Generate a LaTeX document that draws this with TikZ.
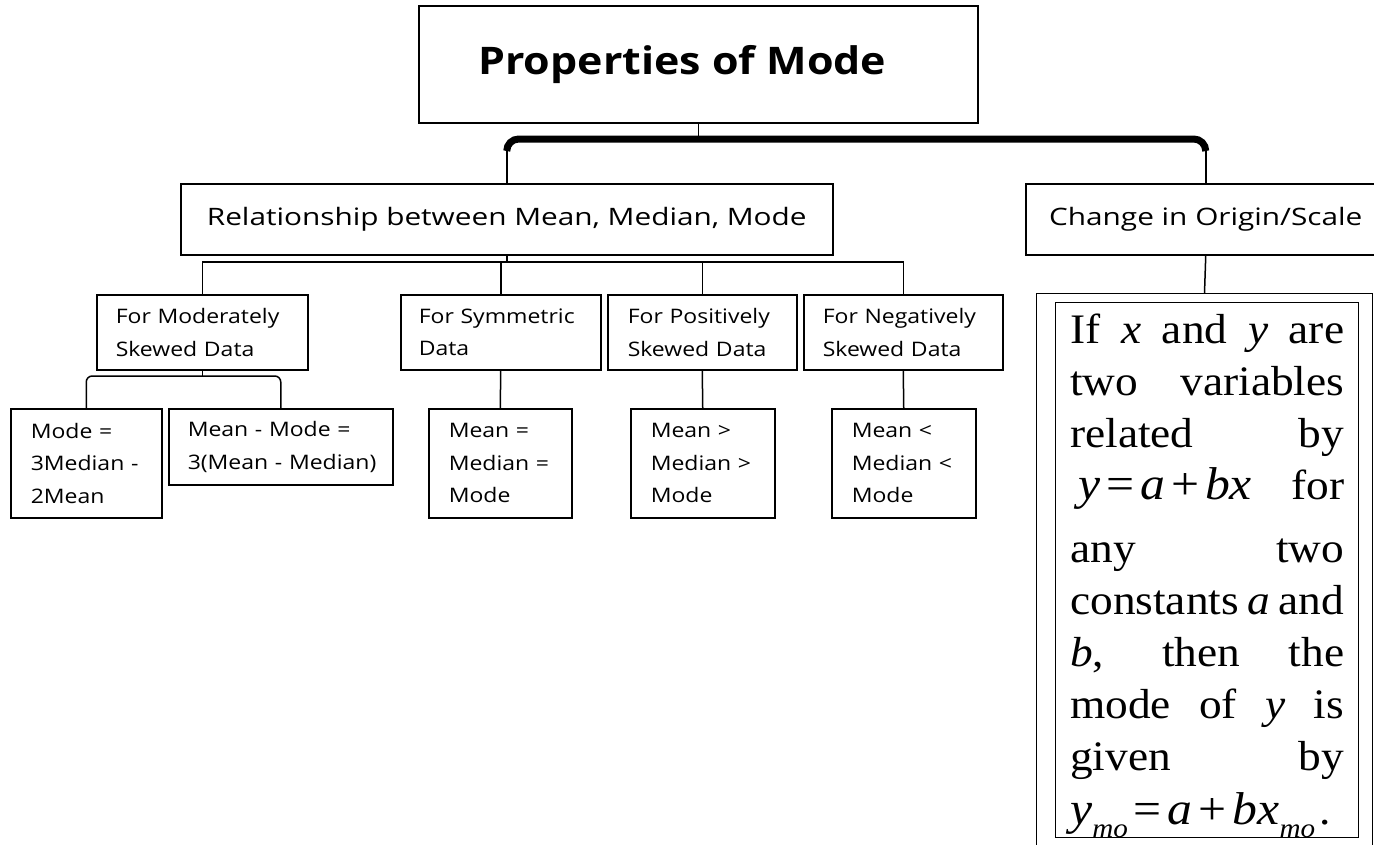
\documentclass[tikz,border=0pt]{standalone}
\usepackage{fontspec}
\setmainfont{Open Sans}
\newfontfamily\titlesans[FakeStretch=1.13]{Open Sans}
\newfontfamily\headsans[FakeStretch=1.24]{Open Sans}
\newfontfamily\leafsans[FakeStretch=1.15]{Open Sans}
\newfontfamily\bodyserif[FakeStretch=1.08]{Liberation Serif}
% larger italic letters and signs for the formulas in the serif panel
\newcommand\fv[1]{{\fontsize{46}{52}\selectfont\itshape #1}}
\newcommand\fs[1]{{\fontsize{46}{52}\selectfont #1}}
\newcommand\fsub[1]{\raisebox{-0.32em}{\fontsize{27}{27}\selectfont\itshape #1}}
\begin{document}
\begin{tikzpicture}[x=1pt,y=-1pt,
  box/.style={draw, line width=1.5pt, anchor=north west, inner ysep=0pt, align=center},
  lbox/.style={box, align=left, font=\leafsans\fontsize{20}{32.5}\selectfont},
  link/.style={line width=1.5pt},
  thickbar/.style={line width=7pt, rounded corners=12pt},
]
\fill[white] (0,0) rectangle (1374,844);
\useasboundingbox (0,0) rectangle (1374,844);

% level 0 and level 1
\node[box, minimum width=559pt, minimum height=117pt,
      font=\titlesans\fontsize{38}{42}\selectfont\bfseries] (title) at (418,5)
  {Properties of Mode\hspace*{32pt}};
\node[box, minimum width=652pt, minimum height=71pt,
      font=\headsans\fontsize{24}{28}\selectfont] (rel) at (180,183) {Relationship between Mean, Median, Mode};
\node[box, minimum width=360pt, minimum height=71pt,
      font=\headsans\fontsize{24}{28}\selectfont] (chg) at (1025,183) {Change in Origin/Scale};

% level 2
\node[lbox, inner xsep=19pt, text width=173pt, minimum height=75pt] (mod) at (96,294)
  {For Moderately\\Skewed Data};
\node[lbox, inner xsep=18pt, text width=164pt, minimum height=75pt] (sym) at (400,294)
  {For Symmetric\\Data};
\node[lbox, inner xsep=20pt, text width=149pt, minimum height=75pt] (pos) at (607,294)
  {For Positively\\Skewed Data};
\node[lbox, inner xsep=19pt, text width=161pt, minimum height=75pt] (neg) at (803,294)
  {For Negatively\\Skewed Data};

% level 3
\node[lbox, inner xsep=20pt, text width=111pt, minimum height=109pt] (m1) at (10,408)
  {Mode =\\3Median -\\2Mean};
\node[lbox, inner xsep=19pt, text width=186pt, minimum height=76pt] (m2) at (168,408)
  {\mbox{Mean - Mode =}\\\mbox{3(Mean - Median)}};
\node[lbox, inner xsep=20pt, text width=103pt, minimum height=109pt] (s1) at (428,408)
  {Mean =\\Median =\\Mode};
\node[lbox, inner xsep=20pt, text width=104pt, minimum height=109pt] (p1) at (630,408)
  {Mean >\\Median >\\Mode};
\node[lbox, inner xsep=20pt, text width=104pt, minimum height=109pt] (n1) at (831,408)
  {Mean <\\Median <\\Mode};

% change of origin / scale panel
\node[draw, line width=1pt, anchor=north west, minimum width=336pt, minimum height=570pt,
      inner sep=0pt] (outer) at (1036,293) {};
\node[draw, line width=1.3pt, anchor=north west, minimum width=303pt, minimum height=535pt,
      inner sep=0pt] (inner) at (1055,302) {};
\node[anchor=base west, inner sep=0pt, font=\bodyserif\fontsize{42}{52}\selectfont] (rule) at (1070,343)
  {\parbox[t]{274pt}{\lineskiplimit=-100pt
    \makebox[\linewidth][s]{If \textit{x} and \textit{y} are}\par
    \makebox[\linewidth][s]{two variables}\par
    \makebox[\linewidth][s]{related by}\par
    \makebox[\linewidth][s]{\kern8pt\fv{y}\kern6pt\fs{=}\kern6pt\fv{a}\kern6pt\fs{+}\kern6pt\fv{bx} for}\par
    \vspace{11pt}
    \makebox[\linewidth][s]{any two}\par
    \makebox[\linewidth][s]{constants \textit{a} and}\par
    \makebox[\linewidth][s]{\textit{b}, then the}\par
    \makebox[\linewidth][s]{mode of \textit{y} is}\par
    \makebox[\linewidth][s]{given by}\par
    \kern2pt\fv{y}\fsub{mo}\kern6pt\fs{=}\kern6pt\fv{a}\kern6pt\fs{+}\kern6pt\fv{bx}\fsub{mo}\kern4pt.}};

% connectors
\coordinate (bar) at (0,139);
\coordinate (barend) at (0,151);
\coordinate (bus2) at (0,262);
\coordinate (bus3) at (0,376);

\draw[link] (title.south) -- (title.south |- bar);
\draw[thickbar] (rel.north |- barend) -- (rel.north |- bar) -- (chg.north |- bar) -- (chg.north |- barend);
\draw[link] (rel.north) -- (rel.north |- barend);
\draw[link] (chg.north) -- (chg.north |- barend);

\draw[link] (rel.south) -- (rel.south |- bus2);
\draw[link] (mod.north) -- (mod.north |- bus2) -- (neg.north |- bus2) -- (neg.north);
\draw[link] (sym.north) -- (sym.north |- bus2);
\draw[link] (pos.north) -- (pos.north |- bus2);

\draw[link] (mod.south) -- (mod.south |- bus3);
\draw[link, rounded corners=6pt] (m1.north) -- (m1.north |- bus3) -- (m2.north |- bus3) -- (m2.north);
\draw[link] (sym.south) -- (s1.north);
\draw[link] (pos.south) -- (p1.north);
\draw[link] (neg.south) -- (n1.north);

\draw[link] (chg.south) -- (outer.north);
\end{tikzpicture}
\end{document}
